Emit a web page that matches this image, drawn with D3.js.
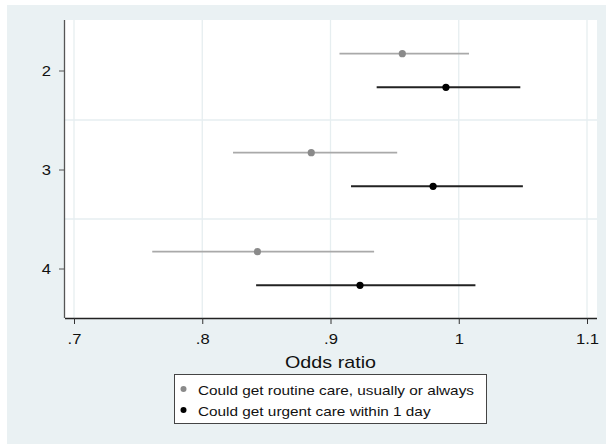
<!DOCTYPE html>
<html><head><meta charset="utf-8">
<script src="https://cdn.jsdelivr.net/npm/d3@7"></script>
<style>html,body{margin:0;padding:0;background:#fff;}svg{display:block;font-family:"Liberation Sans",Arial,sans-serif;}</style>
</head><body>
<script>
const categories = [2, 3, 4];
const routineOR = [0.956, 0.885, 0.843];
const routineLo = [0.907, 0.824, 0.761];
const routineHi = [1.008, 0.952, 0.934];
const urgentOR = [0.990, 0.980, 0.923];
const urgentLo = [0.936, 0.916, 0.842];
const urgentHi = [1.048, 1.050, 1.013];
const xTicks = [0.7, 0.8, 0.9, 1.0, 1.1];
const xTickLabels = [".7", ".8", ".9", "1", "1.1"];
const seriesNames = ["Could get routine care, usually or always", "Could get urgent care within 1 day"];

(function () {
const W = 606, H = 444, SX = 1.16;
const svg = d3.select("body").append("svg").attr("width", W).attr("height", H);
svg.append("rect").attr("x", 7).attr("y", 5).attr("width", W - 7).attr("height", H - 5).attr("fill", "#eaf1f3");

const pL = 65, pR = 597, pT = 20, pB = 318;
const x = d3.scaleLinear().domain([0.7, 1.1]).range([74, 587]);
const y = d3.scaleLinear().domain([1.5, 4.5]).range([pT + 1, pB]);

svg.append("rect").attr("x", pL).attr("y", pT).attr("width", pR - pL).attr("height", pB - pT).attr("fill", "#fff");

const grid = "#e6eef0";
svg.append("g").selectAll("line").data(xTicks).join("line")
  .attr("x1", d => x(d)).attr("x2", d => x(d)).attr("y1", pT).attr("y2", pB)
  .attr("stroke", grid).attr("stroke-width", 1.3);
svg.append("g").selectAll("line").data([2.5, 3.5]).join("line")
  .attr("x1", pL).attr("x2", pR).attr("y1", d => y(d)).attr("y2", d => y(d))
  .attr("stroke", grid).attr("stroke-width", 1.3);

const xAxis = d3.axisBottom(x).tickValues(xTicks).tickFormat((d, i) => xTickLabels[i]).tickSize(6);
const gx = svg.append("g").attr("transform", `translate(0,${pB})`).call(xAxis);
gx.select(".domain").attr("d", `M${pL},0.5H${pR}`).attr("stroke", "#222").attr("stroke-width", 1.3);
gx.selectAll(".tick line").attr("stroke", "#333");
gx.selectAll(".tick text").attr("font-size", 14.3).attr("fill", "#111").attr("font-family", "Liberation Sans, Arial, sans-serif")
  .attr("y", 0).attr("dy", null).attr("transform", `translate(0,26.3) scale(${SX},1)`);

const yAxis = d3.axisLeft(y).tickValues(categories).tickFormat(d3.format("d")).tickSize(6);
const gy = svg.append("g").attr("transform", `translate(${pL},0)`).call(yAxis);
gy.select(".domain").attr("d", `M-0.5,${pT}V${pB}`).attr("stroke", "#555").attr("stroke-width", 1.3);
gy.selectAll(".tick line").attr("stroke", "#555");
gy.selectAll(".tick text").attr("font-size", 14.3).attr("fill", "#111").attr("font-family", "Liberation Sans, Arial, sans-serif")
  .attr("x", 0).attr("dy", "0.35em").attr("transform", `translate(-14,0) scale(${SX},1)`);

const off = 0.17;
const series = [
  {or: routineOR, lo: routineLo, hi: routineHi, d: -off, line: "#a9a9a9", pt: "#8a8a8a", w: 1.6},
  {or: urgentOR, lo: urgentLo, hi: urgentHi, d: off, line: "#222", pt: "#000", w: 2}
];
series.forEach(s => {
  const g = svg.append("g");
  g.selectAll("line").data(categories).join("line")
    .attr("x1", (c, i) => x(s.lo[i])).attr("x2", (c, i) => x(s.hi[i]))
    .attr("y1", c => y(c + s.d)).attr("y2", c => y(c + s.d))
    .attr("stroke", s.line).attr("stroke-width", s.w);
  g.selectAll("circle").data(categories).join("circle")
    .attr("cx", (c, i) => x(s.or[i])).attr("cy", c => y(c + s.d)).attr("r", 3.6)
    .attr("fill", s.pt);
});

svg.append("text").attr("transform", `translate(${x(0.9)},367.7) scale(${SX},1)`).attr("text-anchor", "middle")
  .attr("font-size", 17).attr("fill", "#111").text("Odds ratio");

const lg = svg.append("g");
lg.append("rect").attr("x", 174.5).attr("y", 374.5).attr("width", 312).attr("height", 49)
  .attr("fill", "#fff").attr("stroke", "#444").attr("stroke-width", 1);
[0, 1].forEach(i => {
  const cy = 389 + i * 21;
  lg.append("circle").attr("cx", 183.5).attr("cy", cy).attr("r", 3).attr("fill", series[i].pt);
  lg.append("text").attr("transform", `translate(198,${cy + 6}) scale(${SX + 0.02},1)`)
    .attr("font-size", 13).attr("fill", "#111").text(seriesNames[i]);
});
})();
</script>
</body></html>
